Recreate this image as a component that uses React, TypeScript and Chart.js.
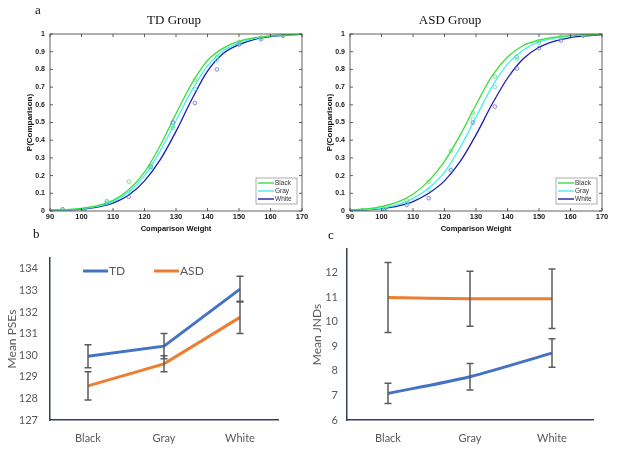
import { useEffect, useRef } from "react";
import { Chart, registerables } from "chart.js";

Chart.register(...registerables);

// Panel a: fitted psychometric curves, sampled every 5 g
const fitWeights = [90, 95, 100, 105, 110, 115, 120, 125, 130, 135, 140, 145, 150, 155, 160, 165, 170];
const trialWeights = [94, 101, 108, 115, 122, 129, 136, 143, 150, 157, 164];

const tdBlackFit = [0.005, 0.008, 0.015, 0.03, 0.06, 0.12, 0.22, 0.37, 0.55, 0.72, 0.85, 0.92, 0.96, 0.98, 0.99, 0.997, 1.0];
const tdGrayFit = [0.004, 0.007, 0.013, 0.026, 0.053, 0.107, 0.2, 0.34, 0.51, 0.68, 0.82, 0.905, 0.95, 0.975, 0.988, 0.995, 0.999];
const tdWhiteFit = [0.003, 0.006, 0.011, 0.022, 0.045, 0.09, 0.17, 0.29, 0.45, 0.63, 0.79, 0.89, 0.94, 0.97, 0.985, 0.994, 0.998];

const asdBlackFit = [0.006, 0.012, 0.025, 0.05, 0.095, 0.17, 0.28, 0.43, 0.6, 0.76, 0.87, 0.935, 0.965, 0.982, 0.991, 0.996, 0.999];
const asdGrayFit = [0.004, 0.008, 0.017, 0.035, 0.07, 0.13, 0.22, 0.36, 0.53, 0.7, 0.83, 0.91, 0.955, 0.977, 0.989, 0.995, 0.998];
const asdWhiteFit = [0.003, 0.006, 0.013, 0.027, 0.053, 0.1, 0.17, 0.28, 0.43, 0.6, 0.75, 0.86, 0.925, 0.96, 0.98, 0.99, 0.996];

// observed proportions at each comparison weight
const tdBlackPts = [0.01, 0.01, 0.056, 0.166, 0.25, 0.47, 0.74, 0.87, 0.955, 0.98, 0.995];
const tdGrayPts = [0.005, 0.01, 0.05, 0.11, 0.24, 0.48, 0.69, 0.85, 0.95, 0.975, 0.995];
const tdWhitePts = [0.01, 0.002, 0.04, 0.08, 0.25, 0.5, 0.61, 0.8, 0.94, 0.97, 0.99];

const asdBlackPts = [0.005, 0.01, 0.06, 0.166, 0.34, 0.555, 0.76, 0.87, 0.96, 0.985, 0.995];
const asdGrayPts = [0.004, 0.008, 0.045, 0.12, 0.235, 0.52, 0.7, 0.86, 0.95, 0.98, 0.995];
const asdWhitePts = [0.002, 0, 0.034, 0.072, 0.23, 0.5, 0.59, 0.805, 0.92, 0.963, 0.99];

// Panels b and c
const colorNames = ["Black", "Gray", "White"];
const pseTD = [129.95, 130.42, 133.06];
const pseTDErr = [0.53, 0.58, 0.6];
const pseASD = [128.58, 129.6, 131.75];
const pseASDErr = [0.65, 0.37, 0.75];
const jndTD = [7.08, 7.76, 8.72];
const jndTDErr = [0.41, 0.54, 0.58];
const jndASD = [10.98, 10.93, 10.93];
const jndASDErr = [1.42, 1.12, 1.21];

const curveColors = ["#3ddc3d", "#44f0f0", "#1c1cb0"];
const pointColors = ["#60d860", "#5cdede", "#6a6ad8"];
const tdBlue = "#4472C4";
const asdOrange = "#ED7D31";
const officeGrey = "#595959";
const officeAxis = "#34405a";

const matlabFont = { family: "'Liberation Sans', Arial, sans-serif", size: 7.5, weight: "bold" as const };
const officeFont = "Lato, 'Open Sans', sans-serif";

// box, inner ticks and legend in MATLAB style
const matlabBox = {
  id: "matlabBox",
  afterDraw(chart: any) {
    const { ctx, chartArea: a, scales } = chart;
    ctx.save();
    ctx.strokeStyle = "#3a3a3a";
    ctx.lineWidth = 0.8;
    ctx.strokeRect(a.left, a.top, a.right - a.left, a.bottom - a.top);
    ctx.beginPath();
    scales.x.ticks.forEach((t: any) => {
      const px = scales.x.getPixelForValue(t.value);
      ctx.moveTo(px, a.bottom);
      ctx.lineTo(px, a.bottom - 3);
      ctx.moveTo(px, a.top);
      ctx.lineTo(px, a.top + 3);
    });
    scales.y.ticks.forEach((t: any) => {
      const py = scales.y.getPixelForValue(t.value);
      ctx.moveTo(a.left, py);
      ctx.lineTo(a.left + 3, py);
      ctx.moveTo(a.right, py);
      ctx.lineTo(a.right - 3, py);
    });
    ctx.stroke();

    // legend
    const bx = a.right - 46;
    const by = a.bottom - 33;
    ctx.fillStyle = "#fff";
    ctx.fillRect(bx, by, 41, 26);
    ctx.strokeStyle = "#8a8a8a";
    ctx.lineWidth = 0.7;
    ctx.strokeRect(bx, by, 41, 26);
    ctx.font = "6.5px 'Liberation Sans', Arial, sans-serif";
    ctx.textBaseline = "middle";
    colorNames.forEach((name, i) => {
      const y = by + 5 + i * 8;
      ctx.strokeStyle = curveColors[i];
      ctx.lineWidth = 1.4;
      ctx.beginPath();
      ctx.moveTo(bx + 2, y);
      ctx.lineTo(bx + 18, y);
      ctx.stroke();
      ctx.fillStyle = "#333";
      ctx.fillText(name, bx + 19, y);
    });
    ctx.restore();
  },
};

function psychometricConfig(fits: number[][], points: number[][]): any {
  const datasets: any[] = [];
  points.forEach((p, i) => {
    datasets.push({
      label: colorNames[i] + " data",
      data: trialWeights.map((x, j) => ({ x, y: p[j] })),
      showLine: false,
      pointRadius: 1.8,
      pointBorderWidth: 0.8,
      borderColor: pointColors[i],
      backgroundColor: "rgba(0,0,0,0)",
    });
  });
  fits.forEach((fit, i) => {
    datasets.push({
      label: colorNames[i],
      data: fitWeights.map((x, j) => ({ x, y: fit[j] })),
      showLine: true,
      borderColor: curveColors[i],
      borderWidth: 1.3,
      pointRadius: 0,
      cubicInterpolationMode: "monotone",
      fill: false,
    });
  });
  return {
    type: "scatter",
    data: { datasets },
    options: {
      animation: false,
      responsive: true,
      maintainAspectRatio: false,
      layout: { padding: { top: 34, right: 8, left: 0, bottom: 0 } },
      plugins: { legend: { display: false }, tooltip: { enabled: false } },
      scales: {
        x: {
          type: "linear",
          min: 90,
          max: 170,
          grid: { display: false, drawTicks: false },
          border: { display: false },
          ticks: { stepSize: 10, font: matlabFont, color: "#222", padding: 1, maxRotation: 0 },
          title: { display: true, text: "Comparison Weight", font: matlabFont, color: "#111", padding: { top: 0, bottom: 0.5 } },
          afterFit: (s: any) => { s.height = 23; },
        },
        y: {
          min: 0,
          max: 1,
          grid: { display: false, drawTicks: false },
          border: { display: false },
          ticks: {
            stepSize: 0.1,
            font: { ...matlabFont, size: 7 },
            color: "#222",
            padding: 5,
            callback: (v: number) => (v === 0 || v === 1 ? String(v) : v.toFixed(1)),
          },
          title: { display: true, text: "P(Comparison)", font: { ...matlabFont, size: 8 }, color: "#111", padding: { top: 25, bottom: 0 } },
          afterFit: (s: any) => { s.width = 50; },
        },
      },
    },
    plugins: [matlabBox],
  };
}

function errorBars(series: { values: number[]; errs: number[] }[]) {
  return {
    id: "errorBars",
    afterDatasetsDraw(chart: any) {
      const { ctx, scales } = chart;
      ctx.save();
      ctx.strokeStyle = "#5b5b5b";
      ctx.lineWidth = 1.5;
      series.forEach((s) =>
        s.values.forEach((v, i) => {
          const px = scales.x.getPixelForValue(i);
          const hi = scales.y.getPixelForValue(v + s.errs[i]);
          const lo = scales.y.getPixelForValue(v - s.errs[i]);
          ctx.beginPath();
          ctx.moveTo(px, hi);
          ctx.lineTo(px, lo);
          ctx.moveTo(px - 3.5, hi);
          ctx.lineTo(px + 3.5, hi);
          ctx.moveTo(px - 3.5, lo);
          ctx.lineTo(px + 3.5, lo);
          ctx.stroke();
        })
      );
      ctx.restore();
    },
  };
}

const groupLegend = {
  id: "groupLegend",
  afterDraw(chart: any) {
    const { ctx, chartArea: a } = chart;
    const y = a.top + 13;
    ctx.save();
    ctx.font = `12px ${officeFont}`;
    ctx.textBaseline = "middle";
    ctx.lineWidth = 3;
    [
      { name: "TD", color: tdBlue, x: a.left + 33 },
      { name: "ASD", color: asdOrange, x: a.left + 104 },
    ].forEach((e) => {
      ctx.strokeStyle = e.color;
      ctx.beginPath();
      ctx.moveTo(e.x, y);
      ctx.lineTo(e.x + 25, y);
      ctx.stroke();
      ctx.fillStyle = officeGrey;
      ctx.fillText(e.name, e.x + 26, y);
    });
    ctx.restore();
  },
};

function meansConfig(opts: {
  td: number[]; tdErr: number[]; asd: number[]; asdErr: number[];
  min: number; max: number; yTitle: string; yWidth: number; tickPad: number;
  padTop: number; padRight: number; tension: number; legend: boolean;
}): any {
  const plugins: any[] = [errorBars([
    { values: opts.td, errs: opts.tdErr },
    { values: opts.asd, errs: opts.asdErr },
  ])];
  if (opts.legend) plugins.push(groupLegend);
  return {
    type: "line",
    data: {
      labels: colorNames,
      datasets: [
        { label: "TD", data: opts.td, borderColor: tdBlue, borderWidth: 3, pointRadius: 0, tension: opts.tension, fill: false },
        { label: "ASD", data: opts.asd, borderColor: asdOrange, borderWidth: 3, pointRadius: 0, tension: opts.tension, fill: false },
      ],
    },
    options: {
      animation: false,
      responsive: true,
      maintainAspectRatio: false,
      layout: { padding: { top: opts.padTop, right: opts.padRight, left: 0, bottom: 0 } },
      plugins: { legend: { display: false }, tooltip: { enabled: false } },
      scales: {
        x: {
          offset: true,
          grid: { display: false, drawTicks: false },
          border: { display: true, color: officeAxis, width: 1.5 },
          ticks: { font: { family: officeFont, size: 11 }, color: officeGrey, padding: 12 },
          afterFit: (s: any) => { s.height = 45; },
        },
        y: {
          min: opts.min,
          max: opts.max,
          grid: { display: false, drawTicks: false },
          border: { display: true, color: officeAxis, width: 1.5 },
          ticks: { stepSize: 1, includeBounds: false, font: { family: officeFont, size: 11 }, color: officeGrey, padding: opts.tickPad },
          title: { display: true, text: opts.yTitle, font: { family: officeFont, size: 12 }, color: officeGrey, padding: { top: 5, bottom: 0 } },
          afterFit: (s: any) => {
            s.width = opts.yWidth;
            s.paddingTop = 0;
            s.paddingBottom = 0;
          },
        },
      },
    },
    plugins,
  };
}

function ChartPanel({ left, top, width, height, config }: { left: number; top: number; width: number; height: number; config: () => any }) {
  const canvasRef = useRef<HTMLCanvasElement>(null);

  useEffect(() => {
    const canvas = canvasRef.current;
    if (!canvas) return;
    const chart = new Chart(canvas, config());
    return () => chart.destroy();
  }, []);

  return (
    <div style={{ position: "absolute", left, top, width, height }}>
      <canvas ref={canvasRef} />
    </div>
  );
}

const serif = "'Liberation Serif', 'Times New Roman', serif";

function Label({ x, y, text, size = 13, center = false }: { x: number; y: number; text: string; size?: number; center?: boolean }) {
  return (
    <div
      style={{
        position: "absolute",
        left: x,
        top: y,
        transform: center ? "translate(-50%, -50%)" : "translate(0, -50%)",
        fontFamily: serif,
        fontSize: size,
        color: "#111",
        whiteSpace: "nowrap",
        lineHeight: 1,
      }}
    >
      {text}
    </div>
  );
}

export default function App() {
  return (
    <div style={{ position: "absolute", left: 0, top: 0, width: 617, height: 465, background: "#fff", overflow: "hidden" }}>
      <ChartPanel left={0} top={0} width={310} height={234}
        config={() => psychometricConfig([tdBlackFit, tdGrayFit, tdWhiteFit], [tdBlackPts, tdGrayPts, tdWhitePts])} />
      <ChartPanel left={300} top={0} width={310} height={234}
        config={() => psychometricConfig([asdBlackFit, asdGrayFit, asdWhiteFit], [asdBlackPts, asdGrayPts, asdWhitePts])} />
      <ChartPanel left={0} top={240} width={300} height={225}
        config={() => meansConfig({
          td: pseTD, tdErr: pseTDErr, asd: pseASD, asdErr: pseASDErr,
          min: 127, max: 134.5, yTitle: "Mean PSEs", yWidth: 50, tickPad: 12,
          padTop: 18, padRight: 22, tension: 0, legend: true,
        })} />
      <ChartPanel left={305} top={240} width={312} height={225}
        config={() => meansConfig({
          td: jndTD, tdErr: jndTDErr, asd: jndASD, asdErr: jndASDErr,
          min: 6, max: 12.95, yTitle: "Mean JNDs", yWidth: 42, tickPad: 9,
          padTop: 9, padRight: 24, tension: 0.25, legend: false,
        })} />
      <Label x={35} y={9} text="a" />
      <Label x={174} y={19} text="TD Group" center />
      <Label x={450} y={19} text="ASD Group" center />
      <Label x={33} y={233} text="b" />
      <Label x={328} y={234} text="c" />
    </div>
  );
}
